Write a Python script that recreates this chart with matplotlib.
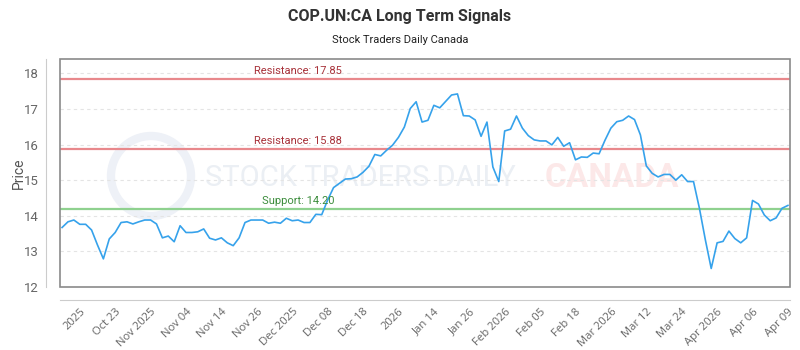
import numpy as np
import matplotlib.pyplot as plt
from matplotlib.patches import Rectangle, Ellipse

plt.rcParams['font.family'] = ['Roboto', 'DejaVu Sans']

# daily closing prices (one point per trading day)
prices = [
    13.67, 13.83, 13.88, 13.76, 13.76, 13.60, 13.18, 12.79, 13.35, 13.53,
    13.81, 13.83, 13.77, 13.83, 13.88, 13.88, 13.77, 13.38, 13.43, 13.27,
    13.72, 13.53, 13.53, 13.55, 13.63, 13.37, 13.32, 13.38, 13.24, 13.16,
    13.38, 13.81, 13.88, 13.88, 13.88, 13.79, 13.82, 13.79, 13.93, 13.86,
    13.88, 13.81, 13.81, 14.04, 14.03, 14.44, 14.79, 14.91, 15.03, 15.04,
    15.09, 15.22, 15.39, 15.72, 15.68, 15.84, 15.98, 16.20, 16.49, 17.01,
    17.20, 16.63, 16.68, 17.10, 17.03, 17.21, 17.39, 17.42, 16.81, 16.80,
    16.69, 16.23, 16.63, 15.37, 14.96, 16.38, 16.43, 16.80, 16.46, 16.25,
    16.13, 16.10, 16.10, 15.99, 16.20, 15.95, 16.05, 15.57, 15.65, 15.64,
    15.76, 15.74, 16.12, 16.46, 16.64, 16.68, 16.80, 16.70, 16.27, 15.40,
    15.19, 15.09, 15.16, 15.16, 15.00, 15.15, 14.96, 14.96, 14.21, 13.33,
    12.52, 13.24, 13.28, 13.57, 13.36, 13.24, 13.38, 14.43, 14.33, 14.02,
    13.86, 13.94, 14.21, 14.29,
]

tick_labels = ['2025', 'Oct 23', 'Nov 2025', 'Nov 04', 'Nov 14', 'Nov 26',
               'Dec 2025', 'Dec 08', 'Dec 18', '2026', 'Jan 14', 'Jan 26',
               'Feb 2026', 'Feb 05', 'Feb 18', 'Mar 2026', 'Mar 12', 'Mar 24',
               'Apr 2026', 'Apr 06', 'Apr 09']
tick_every = 6
tick_start = 3

resistance_levels = [17.85, 15.88]
support_level = 14.20

fig = plt.figure(figsize=(8, 3.5), dpi=100)
ax = fig.add_axes([0.075, 0.18, 0.9125, 0.6514])
ax.patch.set_visible(False)

# spines first: moving them resets the ticks
for side in ['top', 'right']:
    ax.spines[side].set_visible(False)
ax.spines['left'].set_position(('outward', 10))
ax.spines['bottom'].set_position(('outward', 9))
ax.spines['left'].set_color('#cccccc')
ax.spines['bottom'].set_color('#cccccc')
ax.add_patch(Rectangle((0, 0), 1, 1, transform=ax.transAxes, fill=False,
                       ec='#8a8a8a', lw=1.2, clip_on=False, zorder=7))

# faint watermark behind the plot
fig.add_artist(Ellipse((151 / 800, 1 - 176 / 350), 80 / 800, 80 / 350,
                       transform=fig.transFigure, fill=False, ec='#eef1f7', lw=6, zorder=-2))
fig.text(0.256, 1 - 178 / 350, 'STOCK TRADERS DAILY', fontsize=21, color='#ebeff4',
         va='center', ha='left', zorder=-1)
fig.text(0.681, 1 - 178 / 350, 'CANADA', fontsize=24, color='#fce8e8',
         va='center', ha='left', zorder=-1, fontweight='bold')

x = np.arange(len(prices))
ax.plot(x, prices, color='#36a2eb', lw=1.2, zorder=5)

for r in resistance_levels:
    ax.axhline(r, color='#e8888c', lw=1.6, zorder=3)
    ax.annotate(f'Resistance: {r:.2f}', xy=(0.326, r), xycoords=('axes fraction', 'data'),
                xytext=(0, 2), textcoords='offset points', ha='center', va='bottom',
                fontsize=8, color='#a8323a', zorder=6)
ax.axhline(support_level, color='#8fd18f', lw=1.6, zorder=3)
ax.annotate(f'Support: {support_level:.2f}', xy=(0.326, support_level),
            xycoords=('axes fraction', 'data'), xytext=(0, 2), textcoords='offset points',
            ha='center', va='bottom', fontsize=8, color='#3b8c3b', zorder=6)

ax.set_xlim(-0.35, len(prices) - 1 + 0.35)
ax.set_ylim(12, 18.4)
ax.set_yticks(range(12, 19))
ax.yaxis.grid(True, linestyle=(0, (3, 3)), color='#e4e4e4', lw=0.8)
ax.set_axisbelow(True)

ticks = list(range(tick_start, len(prices), tick_every))
ax.set_xticks(ticks, tick_labels)
ax.tick_params(axis='x', length=0, pad=5)
ax.tick_params(axis='y', length=0, pad=5, labelsize=9.5, labelcolor='#666666')
for lab in ax.get_xticklabels():
    lab.set_rotation(45)
    lab.set_ha('right')
    lab.set_va('top')
    lab.set_rotation_mode('anchor')
    lab.set_fontsize(8.1)
    lab.set_color('#666666')
    lab.set_family(['Open Sans', 'DejaVu Sans'])

ax.set_ylabel('Price', fontsize=10, color='#555555')
ax.yaxis.set_label_coords(-0.047, 0.5)

fig.text(0.5, 1 - 17 / 350, 'COP.UN:CA Long Term Signals', ha='center', va='center',
         fontsize=11.5, fontweight='bold', color='#333333')
fig.text(0.5, 1 - 40 / 350, 'Stock Traders Daily Canada', ha='center', va='center',
         fontsize=8, color='#222222')

fig.savefig('out.png', dpi=100)
